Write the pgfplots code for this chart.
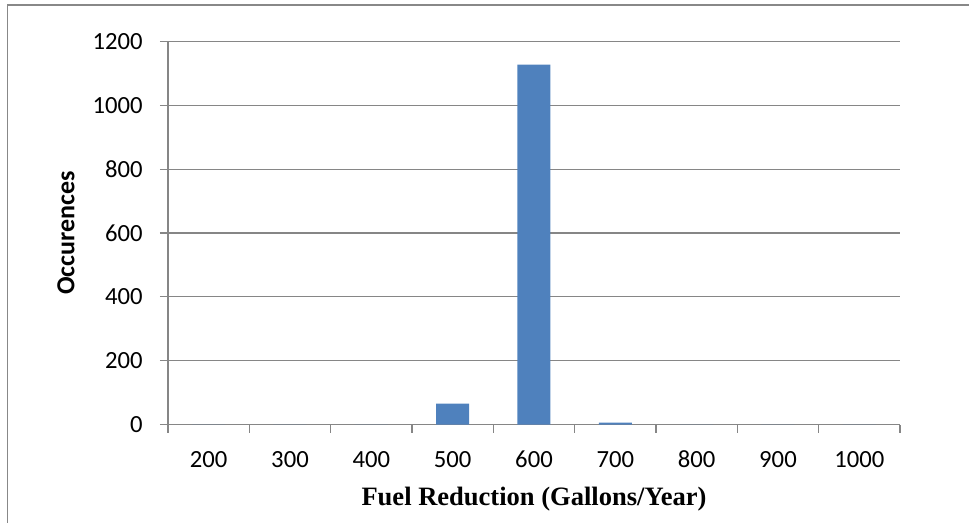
\documentclass[border=0pt]{standalone}
\usepackage{fontspec}
\setmainfont{Liberation Serif}
\newfontfamily\calibri{Carlito}
\usepackage{pgfplots}
\pgfplotsset{compat=1.18}
\definecolor{barblue}{HTML}{4F81BD}
\definecolor{axgray}{HTML}{868686}
\definecolor{framegray}{HTML}{888888}
\begin{document}
\begin{tikzpicture}[x=1pt,y=1pt]
\path[use as bounding box] (-126,-73.7) rectangle (600.75,318.5);
\draw[framegray, line width=1.2pt] (-120.4,-80) -- (-120.4,314.8) -- (610,314.8);
\begin{axis}[
  at={(0,0)}, anchor=south west,
  scale only axis, width=549pt, height=287.5pt,
  xmin=0, xmax=9, ymin=0, ymax=1200,
  axis x line*=bottom, axis y line*=left,
  axis line style={axgray, line width=0.9pt},
  xtick={0.5,1.5,...,8.5},
  xticklabels={200,300,400,500,600,700,800,900,1000},
  major x tick style={draw=none},
  minor xtick={0,1,...,9},
  minor tick length=6pt, major tick length=6pt,
  tick align=outside,
  tick style={axgray, line width=0.9pt},
  ytick={0,200,...,1200},
  ymajorgrids,
  grid style={axgray, line width=0.9pt},
  /pgf/number format/assume math mode=true,
  /pgf/number format/1000 sep={},
  ticklabel style={font=\calibri\fontsize{18.5}{20}\selectfont},
  xticklabel style={anchor=base, yshift=-26.25pt},
  yticklabel style={anchor=east, inner sep=0pt, xshift=-12.75pt},
  ylabel={\calibri\bfseries Occurences},
  ylabel style={at={(axis description cs:0,0.5)}, anchor=center, yshift=76.5pt, font=\fontsize{19.5}{21}\selectfont},
  xlabel={\bfseries Fuel Reduction (Gallons/Year)},
  xlabel style={at={(axis description cs:0.5,0)}, anchor=base, yshift=-60.75pt, font=\fontsize{19.9}{22}\selectfont},
]
\addplot[ybar, bar width=24.75pt, fill=barblue, draw=none] coordinates {
  (0.5,0) (1.5,0) (2.5,0) (3.5,66) (4.5,1127) (5.5,6) (6.5,0) (7.5,0) (8.5,0)
};
\end{axis}
\end{tikzpicture}
\end{document}
